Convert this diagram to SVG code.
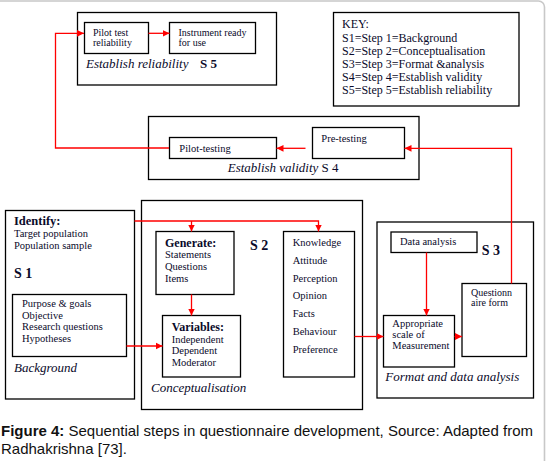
<svg xmlns="http://www.w3.org/2000/svg" width="546" height="461" viewBox="0 0 546 461">
<style>
.box{fill:none;stroke:#000;stroke-width:1.3}
.t{font-family:"Liberation Serif","Times New Roman",serif;font-size:10.5px;fill:#0a0a2a}
.s{font-size:10px}
.b{font-weight:bold;font-size:12px}
.i{font-style:italic;font-size:13px}
.st{font-weight:bold;font-size:14px}
.k{font-size:12px}
.con{fill:none;stroke:#f00;stroke-width:1.3}
.cap{font-family:"Liberation Sans",Arial,sans-serif;font-size:15px;fill:#111}
</style>
<defs>
<marker id="ah" markerWidth="8" markerHeight="8" refX="7" refY="4" orient="auto" markerUnits="userSpaceOnUse">
<path d="M0,0.6 L7,4 L0,7.4 Z" fill="#f00"/>
</marker>
</defs>
<rect x="-6" y="1" width="550.5" height="490" rx="6" fill="#fff" stroke="#c8c8c8" stroke-width="1.6"/>

<g id="s5">
<rect class="box" x="77.5" y="12.5" width="199" height="72.5"/>
<rect class="box" x="84.5" y="22.5" width="64" height="31"/>
<text class="t s" x="93" y="35.5">Pilot test</text>
<text class="t s" x="93" y="46">reliability</text>
<rect class="box" x="169.5" y="22.5" width="86" height="31"/>
<text class="t s" x="178.5" y="35.5">Instrument ready</text>
<text class="t s" x="178.5" y="46">for use</text>
<text class="t i" x="86" y="68">Establish reliability</text>
<text class="t" x="200" y="68" style="font-size:13px;font-weight:bold">S 5</text>
</g>

<g id="key">
<rect class="box" x="333.5" y="12.5" width="185.5" height="93.5"/>
<text class="t k" x="342" y="28.3">KEY:</text>
<text class="t k" x="342" y="41.5">S1=Step 1=Background</text>
<text class="t k" x="342" y="54.7">S2=Step 2=Conceptualisation</text>
<text class="t k" x="342" y="67.9">S3=Step 3=Format &amp;analysis</text>
<text class="t k" x="342" y="81.1">S4=Step 4=Establish validity</text>
<text class="t k" x="342" y="94.3">S5=Step 5=Establish reliability</text>
</g>

<g id="s4">
<rect class="box" x="148.5" y="116.5" width="270.5" height="63"/>
<rect class="box" x="169.5" y="137.5" width="107" height="21"/>
<text class="t" x="179.3" y="151.7">Pilot-testing</text>
<rect class="box" x="312.5" y="127.5" width="92" height="31"/>
<text class="t" x="321.3" y="141.7">Pre-testing</text>
<text class="t i" x="227.7" y="171.7">Establish validity <tspan font-style="normal">S 4</tspan></text>
</g>

<g id="s1">
<rect class="box" x="5.5" y="210.5" width="129" height="188.5"/>
<text class="t b" x="14" y="225" style="font-size:12.5px">Identify:</text>
<text class="t" x="14" y="237">Target population</text>
<text class="t" x="14" y="249">Population sample</text>
<text class="t st" x="14" y="277.7">S 1</text>
<rect class="box" x="12.5" y="294.5" width="114" height="62"/>
<text class="t" x="22" y="307.3">Purpose &amp; goals</text>
<text class="t" x="22" y="318.8">Objective</text>
<text class="t" x="22" y="330.3">Research questions</text>
<text class="t" x="22" y="341.8">Hypotheses</text>
<text class="t i" x="14" y="371.7">Background</text>
</g>

<g id="s2">
<rect class="box" x="141.5" y="200.5" width="221" height="209"/>
<rect class="box" x="156" y="231.5" width="78" height="63"/>
<text class="t b" x="165" y="246.7">Generate:</text>
<text class="t" x="165" y="258.3">Statements</text>
<text class="t" x="165" y="270">Questions</text>
<text class="t" x="165" y="281.7">Items</text>
<text class="t st" x="250" y="250">S 2</text>
<rect class="box" x="162.5" y="315.5" width="78" height="61.5"/>
<text class="t b" x="171.7" y="331">Variables:</text>
<text class="t" x="171.7" y="342.5">Independent</text>
<text class="t" x="171.7" y="354">Dependent</text>
<text class="t" x="171.7" y="365.7">Moderator</text>
<rect class="box" x="283.5" y="231.5" width="71" height="145.5"/>
<text class="t" x="292.7" y="245.7">Knowledge</text>
<text class="t" x="292.7" y="263.6">Attitude</text>
<text class="t" x="292.7" y="281.5">Perception</text>
<text class="t" x="292.7" y="299.4">Opinion</text>
<text class="t" x="292.7" y="317.3">Facts</text>
<text class="t" x="292.7" y="335.2">Behaviour</text>
<text class="t" x="292.7" y="353.1">Preference</text>
<text class="t i" x="151" y="391.7">Conceptualisation</text>
</g>

<g id="s3">
<rect class="box" x="377" y="222" width="156.5" height="176"/>
<rect class="box" x="391" y="232" width="86" height="20.5"/>
<text class="t" x="400" y="245">Data analysis</text>
<text class="t st" x="481.7" y="255">S 3</text>
<rect class="box" x="383.5" y="315.5" width="71" height="51.5"/>
<text class="t" x="392.3" y="326.7">Appropriate</text>
<text class="t" x="392.3" y="337.9">scale of</text>
<text class="t" x="392.3" y="349.1">Measurement</text>
<rect class="box" x="462" y="283.5" width="64.5" height="73"/>
<text class="t s" x="471" y="295.7">Questionn</text>
<text class="t s" x="471" y="306.3">aire form</text>
<text class="t i" x="385.3" y="380.7">Format and data analysis</text>
</g>

<g id="connectors">
<path class="con" d="M169,148 H55.5 V33.3 H84" marker-end="url(#ah)"/>
<path class="con" d="M148.5,33.3 H169.5" marker-end="url(#ah)"/>
<path class="con" d="M305.5,148.3 H276.5" marker-end="url(#ah)"/>
<path class="con" d="M511.5,283.5 V148.3 H404.5" marker-end="url(#ah)"/>
<path class="con" d="M134.5,221 H318.5 V231.5" marker-end="url(#ah)"/>
<path class="con" d="M191.5,221 V231.5" marker-end="url(#ah)"/>
<path class="con" d="M191.5,294.5 V315.5" marker-end="url(#ah)"/>
<path class="con" d="M126.5,346 H162.5" marker-end="url(#ah)"/>
<path class="con" d="M354.5,336.5 H383.5" marker-end="url(#ah)"/>
<path class="con" d="M426.5,252.5 V315.5" marker-end="url(#ah)"/>
<path class="con" d="M454.5,336.5 H462" marker-end="url(#ah)"/>
</g>

<g id="caption">
<text class="cap" x="1" y="436"><tspan font-weight="bold">Figure 4:</tspan> Sequential steps in questionnaire development, Source: Adapted from</text>
<text class="cap" x="1" y="454">Radhakrishna [73].</text>
</g>
</svg>
